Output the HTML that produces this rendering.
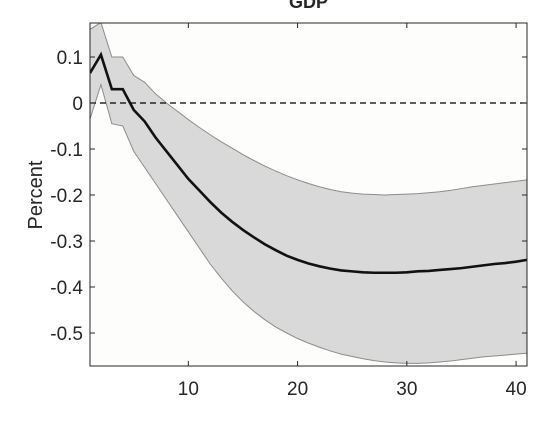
<!DOCTYPE html>
<html><head><meta charset="utf-8"><style>
body{margin:0;background:#fff;}
svg text{font-family:"Liberation Sans",sans-serif;fill:#262626;}
</style></head><body>
<svg id="c" width="556" height="423" xmlns="http://www.w3.org/2000/svg"></svg>
<script>
const periods=[];for(let i=1;i<=41;i++)periods.push(i);
const meanVals=[0.065,0.105,0.03,0.03,-0.015,-0.04,-0.075,-0.105,-0.135,-0.165,-0.19,-0.215,-0.238,-0.258,-0.276,-0.292,-0.307,-0.32,-0.332,-0.341,-0.349,-0.355,-0.36,-0.364,-0.366,-0.368,-0.369,-0.369,-0.369,-0.368,-0.366,-0.365,-0.363,-0.361,-0.359,-0.356,-0.353,-0.35,-0.348,-0.345,-0.341];
const upperVals=[0.16,0.175,0.10,0.10,0.06,0.045,0.02,0.0,-0.018,-0.036,-0.053,-0.069,-0.084,-0.098,-0.112,-0.125,-0.137,-0.148,-0.158,-0.167,-0.175,-0.182,-0.188,-0.193,-0.196,-0.198,-0.199,-0.2,-0.199,-0.198,-0.197,-0.195,-0.193,-0.19,-0.186,-0.182,-0.179,-0.176,-0.173,-0.17,-0.167];
const lowerVals=[-0.035,0.04,-0.045,-0.05,-0.105,-0.14,-0.175,-0.21,-0.245,-0.28,-0.315,-0.35,-0.38,-0.408,-0.432,-0.453,-0.471,-0.487,-0.5,-0.512,-0.522,-0.531,-0.539,-0.546,-0.551,-0.556,-0.56,-0.563,-0.565,-0.566,-0.566,-0.565,-0.563,-0.561,-0.558,-0.555,-0.552,-0.55,-0.548,-0.546,-0.544];
const yTicks=[0.1,0,-0.1,-0.2,-0.3,-0.4,-0.5];
const yTickLabels=["0.1","0","-0.1","-0.2","-0.3","-0.4","-0.5"];
const xTicks=[10,20,30,40];
const L=90,R=527,T=23,B=366,xmin=1,xmax=41,ymax=(103-23)/460,ymin=-(366-103)/460;
const sx=v=>L+(v-xmin)/(xmax-xmin)*(R-L);
const sy=v=>T+(ymax-v)/(ymax-ymin)*(B-T);
const svg=document.getElementById('c');const NS="http://www.w3.org/2000/svg";
function mk(t,a,p){const e=document.createElementNS(NS,t);for(const k in a)e.setAttribute(k,a[k]);(p||svg).appendChild(e);return e;}
let e=mk('rect',{x:L,y:T,width:R-L,height:B-T,fill:'#fdfdfc'});

const clip=mk('clipPath',{id:'cp'});mk('rect',{x:L,y:T,width:R-L,height:B-T},clip);
let pts=periods.map((p,i)=>sx(p)+','+sy(upperVals[i]));
for(let i=periods.length-1;i>=0;i--)pts.push(sx(periods[i])+','+sy(lowerVals[i]));
e=mk('polygon',{points:pts.join(' '),fill:'#d9d9d9',stroke:'#8c8c8c','stroke-width':1,'clip-path':'url(#cp)'});

e=mk('line',{x1:L,x2:R,y1:sy(0),y2:sy(0),stroke:'#000','stroke-width':1.2,'stroke-dasharray':'6,4'});

e=mk('polyline',{points:periods.map((p,i)=>sx(p)+','+sy(meanVals[i])).join(' '),fill:'none',stroke:'#111','stroke-width':2.6,'clip-path':'url(#cp)'});

e=mk('rect',{x:L,y:T,width:R-L,height:B-T,fill:'none',stroke:'#262626','stroke-width':1});

yTicks.forEach((v,i)=>{const y=sy(v);
mk('line',{x1:L,x2:L+5,y1:y,y2:y,stroke:'#262626'});mk('line',{x1:R,x2:R-5,y1:y,y2:y,stroke:'#262626'});
const t=mk('text',{x:L-7,y:y+7,'text-anchor':'end','font-size':19});t.textContent=yTickLabels[i];
});
xTicks.forEach(v=>{const x=sx(v);
mk('line',{x1:x,x2:x,y1:B,y2:B-5,stroke:'#262626'});mk('line',{x1:x,x2:x,y1:T,y2:T+5,stroke:'#262626'});
const t=mk('text',{x:x,y:B+29,'text-anchor':'middle','font-size':19});t.textContent=v;
});
e=mk('text',{x:0,y:0,'text-anchor':'middle','font-size':20,transform:'translate(42,195) rotate(-90)'});e.textContent='Percent';

e=mk('text',{x:(L+R)/2,y:8,'text-anchor':'middle','font-size':18,'font-weight':'bold'});e.textContent='GDP';

</script>
</body></html>
